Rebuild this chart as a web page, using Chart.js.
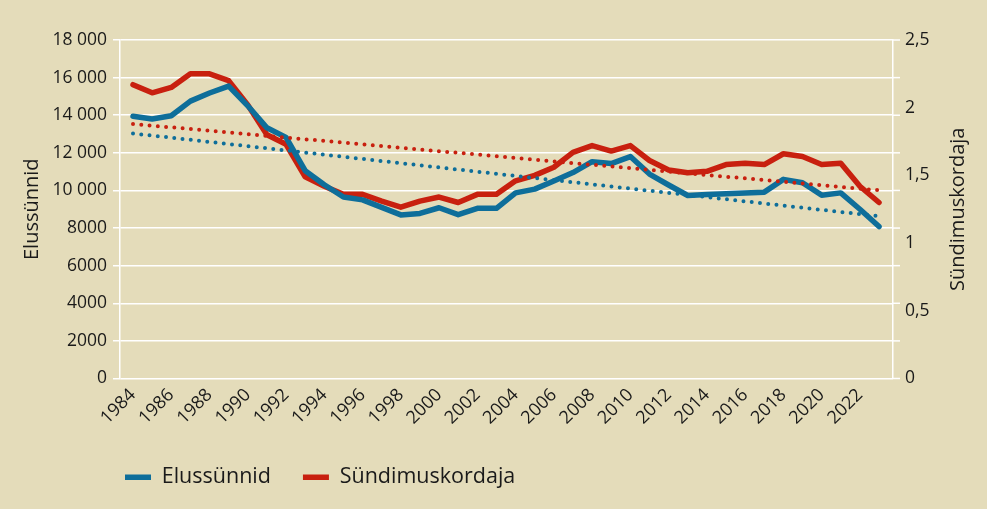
<!DOCTYPE html>
<html>
<head>
<meta charset="utf-8">
<script src="https://cdn.jsdelivr.net/npm/chart.js@4.4.1/dist/chart.umd.min.js"></script>
<style>
  body { margin: 0; background: #E4DCBA; }
  #wrap { width: 987px; height: 509px; position: relative; }
</style>
</head>
<body>
<div id="wrap"><canvas id="birthsChart"></canvas></div>
<script>
// Data
const years = [1984, 1985, 1986, 1987, 1988, 1989, 1990, 1991, 1992, 1993,
    1994, 1995, 1996, 1997, 1998, 1999, 2000, 2001, 2002, 2003,
    2004, 2005, 2006, 2007, 2008, 2009, 2010, 2011, 2012, 2013,
    2014, 2015, 2016, 2017, 2018, 2019, 2020, 2021, 2022, 2023];
const births = [13950, 13800, 13970, 14750, 15180, 15550, 14500, 13330, 12820, 11050,
    10300, 9650, 9500, 9100, 8700, 8780, 9080, 8710, 9050, 9050,
    9870, 10070, 10500, 10950, 11530, 11430, 11800, 10870, 10290, 9730,
    9780, 9820, 9870, 9910, 10590, 10410, 9750, 9870, 9000, 8080];
const fertility = [2.17, 2.11, 2.15, 2.25, 2.25, 2.20, 2.02, 1.80, 1.73, 1.49,
    1.42, 1.36, 1.36, 1.31, 1.265, 1.31, 1.34, 1.30, 1.36, 1.36,
    1.46, 1.50, 1.56, 1.67, 1.72, 1.68, 1.72, 1.61, 1.54, 1.52,
    1.53, 1.58, 1.59, 1.58, 1.66, 1.64, 1.58, 1.59, 1.42, 1.30];
// trend line end points (first year, last year)
const birthsTrend = [13030, 8630];
const fertilityTrend = [1.88, 1.39];
const yearLabels = years.filter(y => y % 2 === 0);

const blue = "#0E6E9A";
const red = "#C8200F";
const textColor = "#1a1a1a";
const legendGap = 32;

Chart.defaults.font.family = "'Open Sans', sans-serif";
Chart.defaults.color = textColor;

const points = (vals) => years.map((x, i) => ({ x: x, y: vals[i] }));
const ends = (vals) => [{ x: years[0], y: vals[0] }, { x: years[years.length - 1], y: vals[1] }];

function spaced(v) {
    if (v < 10000) return String(v);
    return String(v).replace(/\B(?=(\d{3})+(?!\d))/g, " ");
}

// right side tick marks, right axis title (reads bottom to top), legend shift
const extras = {
    id: "extras",
    afterLayout(chart) {
        const lg = chart.legend;
        const shift = chart.chartArea.left - (legendGap - 5) - lg.left;
        lg.left += shift;
        lg.right += shift;
    },
    afterDraw(chart) {
        const { ctx, chartArea, scales } = chart;
        ctx.save();
        ctx.strokeStyle = "#fff";
        ctx.lineWidth = 1.5;
        scales.y.ticks.forEach(t => {
            const y = scales.y.getPixelForValue(t.value);
            ctx.beginPath();
            ctx.moveTo(chartArea.right, y);
            ctx.lineTo(chartArea.right + 7, y);
            ctx.stroke();
        });
        ctx.translate(chart.width - 29, (chartArea.top + chartArea.bottom) / 2);
        ctx.rotate(-Math.PI / 2);
        ctx.fillStyle = textColor;
        ctx.font = "20px 'Open Sans'";
        ctx.textAlign = "center";
        ctx.textBaseline = "middle";
        ctx.fillText("Sündimuskordaja", 0, 0);
        ctx.restore();
    }
};

const ctx = document.getElementById("birthsChart").getContext("2d");
const birthsChart = new Chart(ctx, {
    type: "line",
    data: {
        datasets: [
            {
                label: "trendBirths",
                data: ends(birthsTrend),
                yAxisID: "y",
                borderColor: blue,
                borderWidth: 4,
                borderDash: [0, 8.3],
                borderCapStyle: "round",
                pointRadius: 0,
            },
            {
                label: "trendFertility",
                data: ends(fertilityTrend),
                yAxisID: "y1",
                borderColor: red,
                borderWidth: 4,
                borderDash: [0, 8.3],
                borderCapStyle: "round",
                pointRadius: 0,
            },
            {
                label: "Elussünnid",
                data: points(births),
                yAxisID: "y",
                borderColor: blue,
                backgroundColor: blue,
                borderWidth: 5.5,
                borderJoinStyle: "round",
                borderCapStyle: "round",
                pointRadius: 0,
            },
            {
                label: "Sündimuskordaja",
                data: points(fertility),
                yAxisID: "y1",
                borderColor: red,
                backgroundColor: red,
                borderWidth: 5.5,
                borderJoinStyle: "round",
                borderCapStyle: "round",
                pointRadius: 0,
            },
        ],
    },
    options: {
        responsive: true,
        maintainAspectRatio: false,
        animation: false,
        layout: { padding: { left: 12, right: 10, top: 40, bottom: 11 } },
        plugins: {
            tooltip: { enabled: false },
            legend: {
                position: "bottom",
                align: "start",
                fullSize: false,
                labels: {
                    filter: item => !item.text.startsWith("trend"),
                    usePointStyle: true,
                    pointStyle: "line",
                    pointStyleWidth: 26,
                    color: textColor,
                    font: { size: 21.5 },
                    padding: legendGap,
                },
            },
        },
        scales: {
            x: {
                type: "linear",
                min: 1983.32,
                max: 2023.73,
                afterBuildTicks: s => { s.ticks = yearLabels.map(v => ({ value: v })); },
                afterFit: s => { s.height = 88 - legendGap; },
                grid: { display: false, drawTicks: false },
                border: { display: false },
                ticks: {
                    autoSkip: false,
                    minRotation: 45,
                    maxRotation: 45,
                    padding: 6,
                    font: { size: 18 },
                    callback: v => String(v),
                },
            },
            y: {
                position: "left",
                min: 0,
                max: 18000,
                afterFit: s => { s.width = 108; },
                ticks: { stepSize: 2000, padding: 6, font: { size: 17.5 }, callback: v => spaced(v) },
                grid: { color: "#fff", lineWidth: 1.5, tickLength: 7 },
                border: { display: true, color: "#fff", width: 1.5 },
                title: { display: true, text: "Elussünnid", font: { size: 20 }, padding: { top: 8, bottom: 0 } },
            },
            y1: {
                position: "right",
                min: 0,
                max: 2.5,
                afterFit: s => { s.width = 84; },
                ticks: { stepSize: 0.5, padding: 12, font: { size: 17.5 }, callback: v => String(v).replace(".", ",") },
                grid: { display: false, drawTicks: false },
                border: { display: true, color: "#fff", width: 1.5 },
            },
        },
    },
    plugins: [extras],
});
</script>
</body>
</html>
